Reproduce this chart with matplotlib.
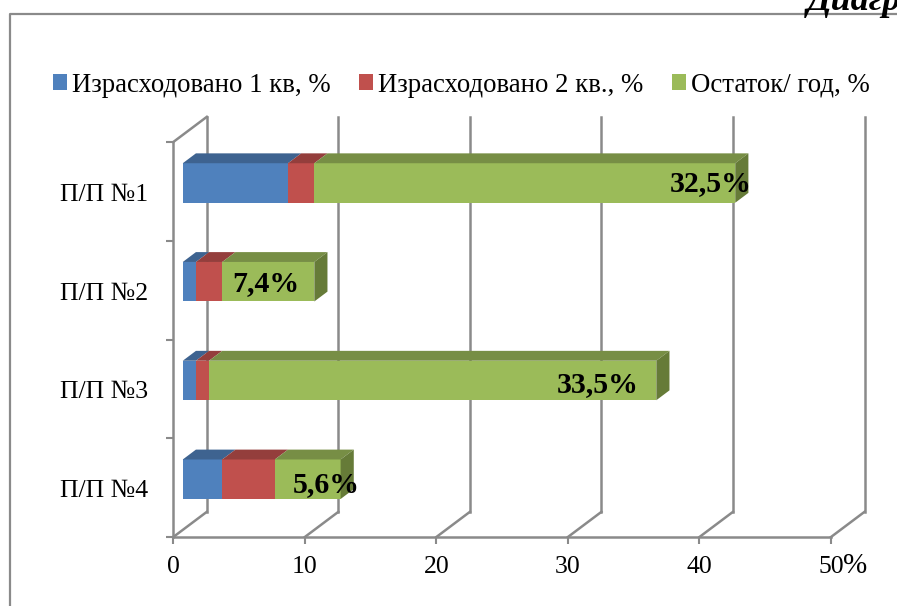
import matplotlib
matplotlib.use('Agg')
import matplotlib.pyplot as plt
from matplotlib.lines import Line2D
from matplotlib.patches import Patch

categories = ['П/П №1', 'П/П №2', 'П/П №3', 'П/П №4']
series_names = ['Израсходовано 1 кв, %', 'Израсходовано 2 кв., %', 'Остаток/ год, %']
spent_q1 = [8, 1, 1, 3]
spent_q2 = [2, 2, 1, 4]
remainder = [32, 7, 34, 5]
remainder_labels = ['32,5%', '7,4%', '33,5%', '5,6%']
x_ticks = [0, 10, 20, 30, 40, 50]

W, H = 897, 606
plt.rcParams['font.family'] = ['Liberation Serif', 'DejaVu Serif']
plt.rcParams['font.size'] = 18.5

fig = plt.figure(figsize=(W / 100, H / 100), dpi=100)
# axes sit on the front plane of the fake 3D box
ax = fig.add_axes([173.3 / W, 1 - 537 / H, (831 - 173.3) / W, (537 - 142) / H])
ax.set_xlim(0, 50)
ax.set_ylim(4, 0)
ax.patch.set_visible(False)
for spine in ax.spines.values():
    spine.set_visible(False)

wall_color = '#8a8a8a'
face_colors = ['#4f81bd', '#c0504d', '#9bbb59']
top_colors = ['#3e6390', '#943e3c', '#778e45']
side_color = '#667b38'

# depth offsets of the box and of the bars, in data units
box_dx, box_dy = 2.55, 0.255
bar_dx, bar_dy = 1.0, 0.1
bar_start = 0.72
bar_h = 0.4
bar_shift = -0.085

# back wall and floor
for t in x_ticks:
    ax.plot([t + box_dx] * 2, [4 - box_dy, -box_dy], color=wall_color, lw=1.8, clip_on=False, zorder=1)
    ax.plot([t, t + box_dx], [4, 4 - box_dy], color=wall_color, lw=1.8, clip_on=False, zorder=1)
ax.plot([0, box_dx], [0, -box_dy], color=wall_color, lw=1.8, clip_on=False, zorder=1)

# front axes
ax.plot([0, 0], [0, 4], color=wall_color, lw=1.8, clip_on=False, zorder=1)
ax.plot([0, 50], [4, 4], color=wall_color, lw=1.8, clip_on=False, zorder=1)

ax.set_xticks(x_ticks)
ax.set_xticklabels([str(t) for t in x_ticks])
ax.set_yticks([0, 1, 2, 3, 4])
ax.set_yticklabels([])
ax.tick_params(axis='both', color=wall_color, width=1.5, length=5)
ax.tick_params(axis='x', pad=9, labelcolor='black')
for i, name in enumerate(categories):
    ax.annotate(name, (0, i + 0.5), xytext=(-18, -2.5), textcoords='offset points',
                ha='right', va='center', annotation_clip=False)

for i in range(len(categories)):
    y = i + 0.5 + bar_shift
    top = y - bar_h / 2
    bottom = y + bar_h / 2
    left = bar_start
    for k, vals in enumerate([spent_q1, spent_q2, remainder]):
        v = vals[i]
        ax.barh(y, v, height=bar_h, left=left, color=face_colors[k], edgecolor='none', zorder=3)
        ax.fill([left, left + v, left + v + bar_dx, left + bar_dx],
                [top, top, top - bar_dy, top - bar_dy],
                color=top_colors[k], lw=0, clip_on=False, zorder=3)
        left += v
    ax.fill([left, left + bar_dx, left + bar_dx, left],
            [top, top - bar_dy, bottom - bar_dy, bottom],
            color=side_color, lw=0, clip_on=False, zorder=3)

# value labels were placed by hand on the chart
label_right = [44.0, 9.55, 35.41, 14.2]
label_dy = [0.01, 0.02, 0.04, 0.05]
for i, txt in enumerate(remainder_labels):
    ax.text(label_right[i], i + 0.5 + bar_shift + label_dy[i], txt, ha='right', va='center',
            fontsize=21.5, fontweight='bold', color='black', zorder=5, clip_on=False)

handles = [Patch(facecolor=c, edgecolor='none') for c in face_colors]
fig.legend(handles, series_names, ncol=3, loc='center left', bbox_to_anchor=(53 / W, 1 - 85 / H),
           frameon=False, fontsize=19.3, handlelength=0.52, handleheight=0.52,
           handletextpad=0.19, columnspacing=1.06, borderpad=0, borderaxespad=0)

# frame of the pasted chart, cut by the page edge
fig.add_artist(Line2D([9.5 / W, 9.5 / W, 1], [0, 1 - 14 / H, 1 - 14 / H], color='#8a8a8a', lw=1.6))

fig.text(807 / W, 1 - 10 / H, 'Диагр', fontsize=26, fontweight='bold', fontstyle='italic', va='baseline')
fig.text(843 / W, 1 - 573 / H, '%', fontsize=21, va='baseline')

fig.savefig('out.png', dpi=100)
